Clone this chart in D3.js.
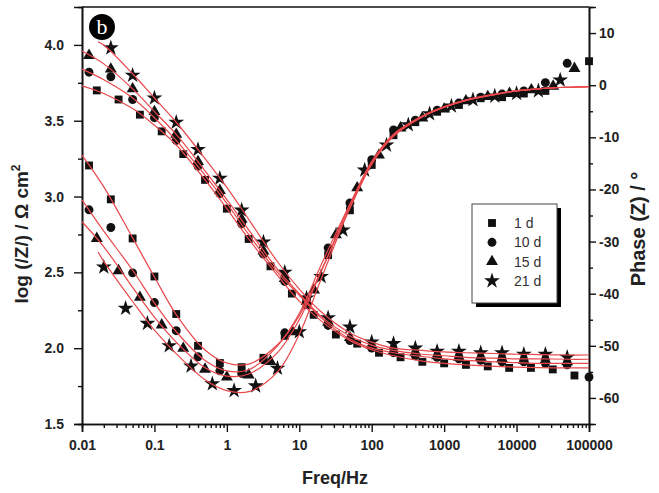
<!DOCTYPE html>
<html>
<head>
<meta charset="utf-8">
<script src="https://d3js.org/d3.v7.min.js"></script>
<style>
  body { margin: 0; background: #fff; }
  svg { display: block; }
  text { font-family: "Liberation Sans", Arial, sans-serif; }
</style>
</head>
<body>
<div id="chart"></div>
<script>
// ---- data ----
// log|Z| points (left axis)
var zFreq1  = [0.016, 0.032, 0.063, 0.126, 0.25, 0.5, 1.0, 2.0, 4.0, 7.9, 15.8, 32, 63, 126, 250, 500, 1000, 2000, 4000, 7900, 15800, 31600, 63000];
var logZ1   = [3.70, 3.64, 3.54, 3.43, 3.28, 3.11, 2.92, 2.72, 2.54, 2.36, 2.22, 2.09, 2.03, 1.97, 1.94, 1.91, 1.90, 1.89, 1.88, 1.87, 1.87, 1.86, 1.82];
var zFreq10 = [0.0125, 0.025, 0.05, 0.1, 0.2, 0.4, 0.8, 1.6, 3.2, 6.3, 12.6, 25, 50, 100, 200, 400, 800, 1600, 3200, 6300, 12600, 25000, 50000, 100000];
var logZ10  = [3.82, 3.79, 3.64, 3.52, 3.37, 3.20, 3.02, 2.82, 2.62, 2.44, 2.30, 2.15, 2.05, 2.00, 1.97, 1.95, 1.94, 1.93, 1.92, 1.91, 1.91, 1.90, 1.89, 1.81];
var zFreq15 = [0.0125, 0.025, 0.05, 0.1, 0.2, 0.4, 0.8, 1.6, 3.2, 6.3, 12.6, 25, 50, 100, 200, 400, 800, 1600, 3200, 6300, 12600, 25000, 50000];
var logZ15  = [3.93, 3.84, 3.71, 3.56, 3.41, 3.23, 3.04, 2.85, 2.64, 2.46, 2.31, 2.17, 2.07, 2.02, 1.98, 1.97, 1.95, 1.94, 1.94, 1.93, 1.92, 1.92, 1.91];
var zFreq21 = [0.025, 0.05, 0.1, 0.2, 0.4, 0.8, 1.6, 3.2, 6.3, 12.6, 25, 50, 100, 200, 400, 800, 1600, 3200, 6300, 12600, 25000, 50000];
var logZ21  = [3.98, 3.80, 3.65, 3.49, 3.31, 3.12, 2.91, 2.70, 2.50, 2.33, 2.20, 2.14, 2.04, 2.03, 2.00, 1.98, 1.98, 1.97, 1.97, 1.96, 1.96, 1.94];

// phase points (right axis, degrees)
var phFreq1  = [0.0125, 0.025, 0.05, 0.1, 0.2, 0.4, 0.8, 1.6, 3.2, 6.3, 12.6, 25, 50, 100, 200, 400, 800, 1600, 3200, 6300, 12600, 25000, 100000];
var phase1   = [-15.4, -21.9, -29.4, -36.7, -43.9, -50.0, -53.3, -54.1, -52.3, -48.1, -42.2, -32.6, -24.0, -15.3, -9.6, -7.1, -5.1, -3.8, -2.5, -2.3, -1.6, -1.1, 4.6];
var phFreq10 = [0.0125, 0.025, 0.05, 0.1, 0.2, 0.4, 0.8, 1.6, 3.2, 6.3, 12.6, 25, 50, 100, 200, 400, 800, 1600, 3200, 6300, 12600, 25000, 50000];
var phase10  = [-23.9, -27.3, -36.0, -41.7, -47.1, -52.1, -54.8, -55.3, -52.7, -47.5, -41.0, -31.2, -22.6, -14.3, -8.6, -6.7, -4.8, -3.4, -2.3, -1.7, -1.1, 0.5, 4.2];
var phFreq15 = [0.016, 0.032, 0.063, 0.126, 0.25, 0.5, 1, 2, 4, 8, 16, 32, 63, 126, 250, 500, 1000, 2000, 4000, 8000, 16000, 32000, 63000];
var phase15  = [-29.4, -35.6, -40.7, -46.0, -50.5, -54.5, -56.0, -55.6, -53.0, -47.3, -39.3, -28.7, -19.7, -13.4, -8.2, -6.3, -4.6, -3.0, -2.2, -1.6, -0.9, -0.2, 3.2];
var phFreq21 = [0.02, 0.04, 0.08, 0.16, 0.32, 0.63, 1.26, 2.5, 5, 10, 20, 40, 80, 160, 320, 630, 1260, 2500, 5000, 10000, 20000, 40000];
var phase21  = [-34.9, -42.8, -45.7, -50.0, -53.9, -57.3, -58.6, -57.7, -54.3, -47.3, -36.7, -27.8, -16.3, -11.5, -7.6, -5.5, -4.0, -2.8, -2.1, -1.6, -1.1, 1.0];

// fitted curves (red lines)
var fitFreq   = [0.01, 0.02, 0.05, 0.1, 0.2, 0.5, 1, 2, 5, 10, 20, 50, 100, 200, 500, 1000, 2000, 5000, 10000, 20000, 50000, 100000];
var fitFreq21 = [0.0167, 0.02, 0.05, 0.1, 0.2, 0.5, 1, 2, 5, 10, 20, 50, 100, 200, 500, 1000, 2000, 5000, 10000, 20000, 50000, 100000];
var fitZ1   = [3.73, 3.68, 3.58, 3.47, 3.34, 3.11, 2.92, 2.72, 2.48, 2.31, 2.18, 2.05, 1.99, 1.95, 1.915, 1.90, 1.89, 1.88, 1.875, 1.872, 1.87, 1.87];
var fitZ10  = [3.84, 3.77, 3.65, 3.52, 3.37, 3.14, 2.955, 2.75, 2.50, 2.35, 2.20, 2.06, 2.00, 1.97, 1.945, 1.93, 1.92, 1.91, 1.905, 1.90, 1.90, 1.90];
var fitZ15  = [3.96, 3.875, 3.71, 3.56, 3.41, 3.17, 2.98, 2.78, 2.52, 2.36, 2.21, 2.08, 2.02, 1.985, 1.96, 1.95, 1.94, 1.935, 1.93, 1.93, 1.927, 1.927];
var fitZ21  = [4.02, 4.00, 3.81, 3.65, 3.49, 3.25, 3.06, 2.85, 2.57, 2.39, 2.24, 2.10, 2.04, 2.00, 1.985, 1.975, 1.97, 1.965, 1.96, 1.958, 1.955, 1.955];
var fitPh1  = [-13.4, -19.5, -29.3, -36.8, -44.0, -50.8, -53.3, -53.5, -49.8, -44.2, -35.6, -23.6, -15.2, -9.7, -6.0, -4.2, -2.9, -1.8, -1.1, -0.7, -0.4, -0.3];
var fitPh10 = [-22.0, -28.0, -35.5, -41.8, -47.3, -52.8, -54.8, -54.6, -50.0, -43.8, -34.5, -22.8, -14.6, -9.4, -5.9, -4.1, -2.8, -1.7, -1.1, -0.7, -0.4, -0.3];
var fitPh15 = [-26.2, -31.0, -38.8, -44.5, -49.3, -54.2, -55.8, -55.4, -51.3, -45.0, -35.8, -23.0, -15.0, -9.6, -6.0, -4.2, -2.9, -1.8, -1.1, -0.7, -0.4, -0.3];
var fitPh21 = [-32.0, -33.8, -41.5, -47.0, -51.5, -56.5, -58.6, -58.8, -55.0, -47.8, -37.2, -23.5, -15.0, -9.8, -6.1, -4.2, -2.9, -1.8, -1.1, -0.7, -0.4, -0.3];

// axis ticks
var xTicks = [0.01, 0.1, 1, 10, 100, 1000, 10000, 100000];
var yLeftTicks = [1.5, 2.0, 2.5, 3.0, 3.5, 4.0];
var yRightTicks = [-60, -50, -40, -30, -20, -10, 0, 10];
var legendLabels = ["1 d", "10 d", "15 d", "21 d"];

(function() {
  // ---- layout ----
  var width = 659, height = 493;
  var plotL = 82, plotR = 589, plotT = 7, plotB = 424;

  var svg = d3.select('#chart').append('svg')
    .attr('width', width).attr('height', height);

  var x = d3.scaleLog().domain([0.01, 100000]).range([plotL, plotR]);
  var yL = d3.scaleLinear().domain([1.5, 4.25]).range([plotB, plotT]);
  var yR = d3.scaleLinear().domain([-65, 15]).range([plotB, plotT]);

  var pair = function(fs, vs) {
    return fs.map(function(f, i) { return [f, vs[i]]; });
  };

  var series = [
    { label: legendLabels[0], sym: d3.symbolSquare,   size: 62, z: pair(zFreq1, logZ1),   ph: pair(phFreq1, phase1),   fz: pair(fitFreq, fitZ1),    fp: pair(fitFreq, fitPh1) },
    { label: legendLabels[1], sym: d3.symbolCircle,   size: 62, z: pair(zFreq10, logZ10), ph: pair(phFreq10, phase10), fz: pair(fitFreq, fitZ10),   fp: pair(fitFreq, fitPh10) },
    { label: legendLabels[2], sym: d3.symbolTriangle, size: 62, z: pair(zFreq15, logZ15), ph: pair(phFreq15, phase15), fz: pair(fitFreq, fitZ15),   fp: pair(fitFreq, fitPh15) },
    { label: legendLabels[3], sym: d3.symbolStar,     size: 78, z: pair(zFreq21, logZ21), ph: pair(phFreq21, phase21), fz: pair(fitFreq21, fitZ21), fp: pair(fitFreq21, fitPh21) }
  ];

  // ---- axes ----
  var axisStyle = function(g) {
    g.selectAll('path').attr('stroke', '#111').attr('stroke-width', 1.6);
    g.selectAll('line').attr('stroke', '#111').attr('stroke-width', 1.4);
    g.selectAll('text').attr('font-size', 14).attr('font-weight', 'bold').attr('fill', '#222');
  };

  // minor ticks first
  var xMinor = [];
  xTicks.slice(0, -1).forEach(function(d) {
    for (var k = 2; k <= 9; k++) xMinor.push(d * k);
  });
  svg.append('g').attr('transform', 'translate(0,' + plotB + ')')
    .call(d3.axisBottom(x).tickValues(xMinor).tickSize(4).tickFormat(''))
    .call(axisStyle);
  svg.append('g').attr('transform', 'translate(' + plotL + ',0)')
    .call(d3.axisLeft(yL).tickValues([1.75, 2.25, 2.75, 3.25, 3.75]).tickSize(4).tickFormat(''))
    .call(axisStyle);
  svg.append('g').attr('transform', 'translate(' + plotR + ',0)')
    .call(d3.axisRight(yR).tickValues([-55, -45, -35, -25, -15, -5, 5]).tickSize(4).tickFormat(''))
    .call(axisStyle);

  svg.append('g').attr('transform', 'translate(0,' + plotB + ')')
    .call(d3.axisBottom(x).tickValues(xTicks).tickSize(8).tickPadding(8).tickFormat(function(d) { return String(d); }))
    .call(axisStyle);
  svg.append('g').attr('transform', 'translate(' + plotL + ',0)')
    .call(d3.axisLeft(yL).tickValues(yLeftTicks).tickSize(8).tickPadding(10).tickFormat(d3.format('.1f')))
    .call(axisStyle);
  svg.append('g').attr('transform', 'translate(' + plotR + ',0)')
    .call(d3.axisRight(yR).tickValues(yRightTicks).tickSize(7).tickPadding(3).tickFormat(function(d) { return String(d); }))
    .call(axisStyle);

  // top frame line
  svg.append('line')
    .attr('x1', plotL).attr('x2', plotR).attr('y1', plotT).attr('y2', plotT)
    .attr('stroke', '#111').attr('stroke-width', 1.6);

  // ---- markers ----
  var marks = svg.append('g');
  series.forEach(function(s) {
    var sym = d3.symbol().type(s.sym).size(s.size);
    marks.selectAll(null).data(s.z).enter().append('path')
      .attr('d', sym)
      .attr('transform', function(d) { return 'translate(' + x(d[0]) + ',' + yL(d[1]) + ')'; })
      .attr('fill', '#111');
    marks.selectAll(null).data(s.ph).enter().append('path')
      .attr('d', sym)
      .attr('transform', function(d) { return 'translate(' + x(d[0]) + ',' + yR(d[1]) + ')'; })
      .attr('fill', '#111');
  });

  // ---- fitted lines ----
  var lineZ = d3.line().x(function(d) { return x(d[0]); }).y(function(d) { return yL(d[1]); })
    .curve(d3.curveCatmullRom.alpha(0.5));
  var lineP = d3.line().x(function(d) { return x(d[0]); }).y(function(d) { return yR(d[1]); })
    .curve(d3.curveCatmullRom.alpha(0.5));
  var lines = svg.append('g').attr('fill', 'none').attr('stroke', '#e8474b').attr('stroke-width', 1.2);
  series.forEach(function(s) {
    lines.append('path').attr('d', lineZ(s.fz));
    lines.append('path').attr('d', lineP(s.fp));
  });

  // ---- axis titles ----
  var lt = svg.append('text')
    .attr('transform', 'translate(28,234) rotate(-90)')
    .attr('text-anchor', 'middle')
    .attr('font-size', 19).attr('font-weight', 'bold').attr('fill', '#222');
  lt.append('tspan').text('log (/Z/) / \u03A9 cm');
  lt.append('tspan').attr('dy', -8).attr('font-size', 12).text('2');

  svg.append('text')
    .attr('transform', 'translate(645,229) rotate(-90)')
    .attr('text-anchor', 'middle')
    .attr('font-size', 20).attr('font-weight', 'bold').attr('fill', '#222')
    .text('Phase (Z) / \u00B0');

  svg.append('text')
    .attr('x', 335).attr('y', 484)
    .attr('text-anchor', 'middle')
    .attr('font-size', 18).attr('font-weight', 'bold').attr('fill', '#222')
    .text('Freq/Hz');

  // ---- panel badge ----
  svg.append('circle').attr('cx', 102).attr('cy', 27).attr('r', 13).attr('fill', '#000');
  svg.append('text')
    .attr('x', 102).attr('y', 34)
    .attr('text-anchor', 'middle')
    .style('font-family', '"Liberation Serif", "DejaVu Serif", serif')
    .attr('font-size', 22).attr('fill', '#fff')
    .text('b');

  // ---- legend ----
  var lg = svg.append('g');
  lg.append('rect').attr('x', 476).attr('y', 208).attr('width', 85).attr('height', 99).attr('fill', '#000');
  lg.append('rect').attr('x', 472).attr('y', 204).attr('width', 85).attr('height', 99)
    .attr('fill', '#fff').attr('stroke', '#444').attr('stroke-width', 1);
  series.forEach(function(s, i) {
    var yy = 223 + i * 19.3;
    lg.append('path')
      .attr('d', d3.symbol().type(s.sym).size(s.size)())
      .attr('transform', 'translate(492,' + yy + ')')
      .attr('fill', '#111');
    lg.append('text')
      .attr('x', 514).attr('y', yy + 5)
      .attr('font-size', 14).attr('fill', '#333')
      .text(s.label);
  });
})();
</script>
</body>
</html>
